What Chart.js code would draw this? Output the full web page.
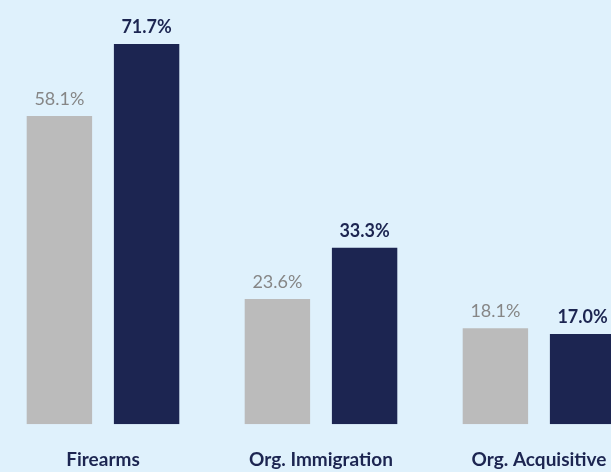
<!DOCTYPE html>
<html>
<head>
<meta charset="utf-8">
<script src="https://cdn.jsdelivr.net/npm/chart.js@4/dist/chart.umd.min.js"></script>
<style>
  html, body { margin: 0; padding: 0; background: #dff1fc; overflow: hidden; width: 611px; height: 472px; }
  #wrap { position: absolute; left: -6px; top: 0; width: 654px; height: 495px; }
</style>
</head>
<body>
<div id="wrap"><canvas id="c" width="654" height="495"></canvas></div>
<script>
const categories = ["Firearms", "Org. Immigration", "Org. Acquisitive"];
const seriesA = [58.1, 23.6, 18.1];
const seriesB = [71.7, 33.3, 17.0];
const seriesNames = ["Series A", "Series B"];

const GREY = "#bbbbbb";
const NAVY = "#1c2551";
const GREY_TEXT = "#868686";
const FONT = "Lato, 'Open Sans', sans-serif";

const valueLabels = {
  id: "valueLabels",
  afterDatasetsDraw(chart) {
    const ctx = chart.ctx;
    ctx.save();
    ctx.textAlign = "center";
    ctx.textBaseline = "alphabetic";
    chart.data.datasets.forEach((ds, di) => {
      const meta = chart.getDatasetMeta(di);
      meta.data.forEach((bar, i) => {
        const v = ds.data[i];
        ctx.font = (di === 1 ? "bold " : "normal ") + "18px " + FONT;
        ctx.fillStyle = di === 1 ? NAVY : GREY_TEXT;
        ctx.fillText(v.toFixed(1) + "%", bar.x, bar.y - 11);
      });
    });
    ctx.restore();
  }
};

new Chart(document.getElementById("c"), {
  type: "bar",
  data: {
    labels: categories,
    datasets: [
      { label: seriesNames[0], data: seriesA, backgroundColor: GREY, borderWidth: 0 },
      { label: seriesNames[1], data: seriesB, backgroundColor: NAVY, borderWidth: 0 }
    ]
  },
  options: {
    responsive: false,
    animation: false,
    devicePixelRatio: 1,
    layout: { padding: 0 },
    datasets: { bar: { categoryPercentage: 0.8, barPercentage: 0.75 } },
    plugins: { legend: { display: false }, tooltip: { enabled: false } },
    scales: {
      x: {
        grid: { display: false, drawTicks: false },
        border: { display: false },
        ticks: { color: NAVY, font: { family: FONT, size: 19, weight: "bold" }, padding: 24, maxRotation: 0, autoSkip: false }
      },
      y: { display: false, min: 0, max: 80 }
    }
  },
  plugins: [valueLabels]
});
</script>
</body>
</html>
